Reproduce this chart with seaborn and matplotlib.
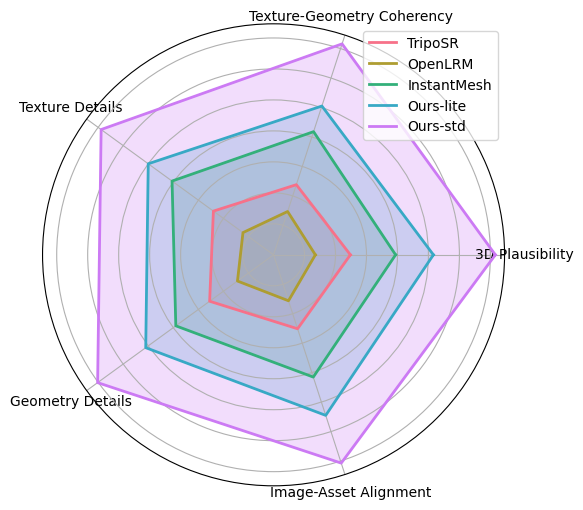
import numpy as np
import matplotlib
matplotlib.use("Agg")
import matplotlib.pyplot as plt
import seaborn as sns

# eixos do radar
categorias = ['3D Plausibility', 'Texture-Geometry Coherency', 'Texture Details',
              'Geometry Details', 'Image-Asset Alignment']

modelos = ['TripoSR', 'OpenLRM', 'InstantMesh', 'Ours-lite', 'Ours-std']

# valores (mesma ordem das categorias)
triposr = [2.48, 2.38, 2.40, 2.55, 2.51]
openlrm = [1.35, 1.47, 1.22, 1.44, 1.56]
instantmesh = [3.94, 4.18, 4.05, 3.90, 4.15]
ours_lite = [5.16, 5.05, 5.00, 5.10, 5.45]
ours_std = [7.16, 7.16, 6.88, 7.02, 7.07]

valores = [triposr, openlrm, instantmesh, ours_lite, ours_std]
cores = sns.color_palette("husl", len(modelos))

n = len(categorias)
angulos = np.linspace(0, 2 * np.pi, n, endpoint=False).tolist()
angulos_fechados = angulos + angulos[:1]

fig, ax = plt.subplots(figsize=(6, 6), subplot_kw=dict(polar=True))

for nome, vals, cor in zip(modelos, valores, cores):
    v = vals + vals[:1]
    ax.plot(angulos_fechados, v, color=cor, linewidth=2, label=nome)
    ax.fill(angulos_fechados, v, color=cor, alpha=0.25)

ax.set_xticks(angulos)
ax.set_xticklabels(categorias)
ax.set_yticklabels([])
ax.legend(loc='upper right')

plt.savefig('out.png', dpi=100, bbox_inches='tight')
